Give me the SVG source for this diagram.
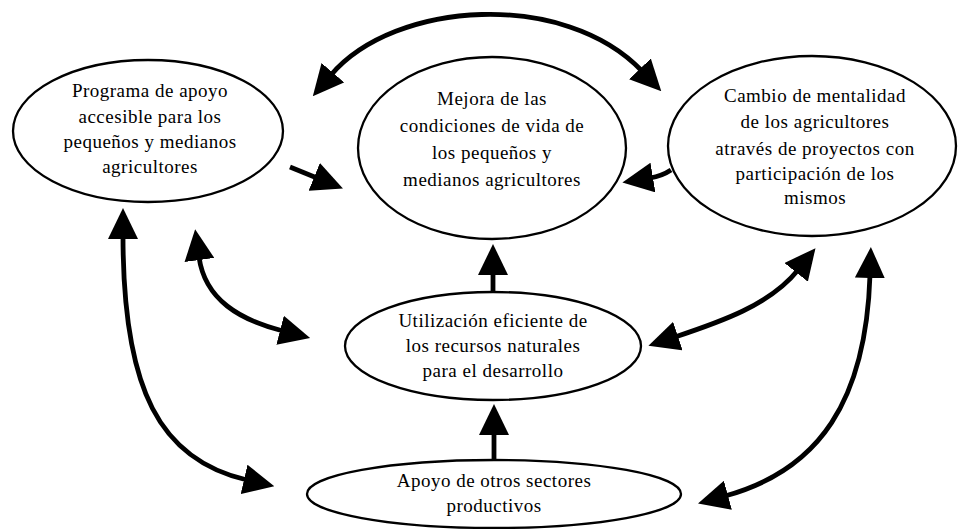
<svg xmlns="http://www.w3.org/2000/svg" width="958" height="529" viewBox="0 0 958 529">
<style>
.node ellipse{fill:#fff;stroke:#000;stroke-width:2.3}
.node text{font-family:"Liberation Serif","Times New Roman",serif;font-size:19px;letter-spacing:0.5px;text-anchor:middle;fill:#000}
.conn path{fill:none;stroke:#000;stroke-width:4.8}
</style>
<defs>
<marker id="ah" markerUnits="userSpaceOnUse" viewBox="0 0 31 30" refX="3" refY="15" markerWidth="31" markerHeight="30" orient="auto-start-reverse">
<path d="M0,0 L31,15 L0,30 z" fill="#000"/>
</marker>
</defs>
<rect width="958" height="529" fill="#fff"/>
<g id="n1" class="node">
<ellipse cx="148" cy="131" rx="135" ry="71"/>
<text x="150" y="97">Programa de apoyo</text>
<text x="150" y="123">accesible para los</text>
<text x="150" y="148">pequeños y medianos</text>
<text x="150" y="173">agricultores</text>
</g>
<g id="n2" class="node">
<ellipse cx="492" cy="148" rx="134" ry="91"/>
<text x="492" y="105">Mejora de las</text>
<text x="492" y="132">condiciones de vida de</text>
<text x="492" y="159">los pequeños y</text>
<text x="492" y="186">medianos agricultores</text>
</g>
<g id="n3" class="node">
<ellipse cx="812" cy="146" rx="144" ry="90"/>
<text x="815" y="102">Cambio de mentalidad</text>
<text x="815" y="128">de los agricultores</text>
<text x="815" y="155">através de proyectos con</text>
<text x="815" y="180">participación de los</text>
<text x="815" y="204">mismos</text>
</g>
<g id="n4" class="node">
<ellipse cx="493" cy="346" rx="148" ry="54"/>
<text x="493" y="327">Utilización eficiente de</text>
<text x="493" y="352">los recursos naturales</text>
<text x="493" y="377">para el desarrollo</text>
</g>
<g id="n5" class="node">
<ellipse cx="494" cy="494" rx="187" ry="34"/>
<text x="494" y="487">Apoyo de otros sectores</text>
<text x="494" y="512">productivos</text>
</g>
<g id="connectors" class="conn">
<path d="M331,75 C395,0 565,-10 642,71" marker-start="url(#ah)" marker-end="url(#ah)"/>
<path d="M290,167 L317,178" marker-end="url(#ah)"/>
<path d="M671,170 Q662,176 650,178" marker-end="url(#ah)"/>
<path d="M493,292 L493,272" marker-end="url(#ah)"/>
<path d="M494,460 L494,432" marker-end="url(#ah)"/>
<path d="M199,257 C205,300 240,320 283,331" marker-start="url(#ah)" marker-end="url(#ah)"/>
<path d="M123,236 C123,390 160,460 247,480" marker-start="url(#ah)" marker-end="url(#ah)"/>
<path d="M798,270 C770,305 720,322 675,337" marker-start="url(#ah)" marker-end="url(#ah)"/>
<path d="M870,275 C866,400 820,470 725,496" marker-start="url(#ah)" marker-end="url(#ah)"/>
</g>
</svg>
